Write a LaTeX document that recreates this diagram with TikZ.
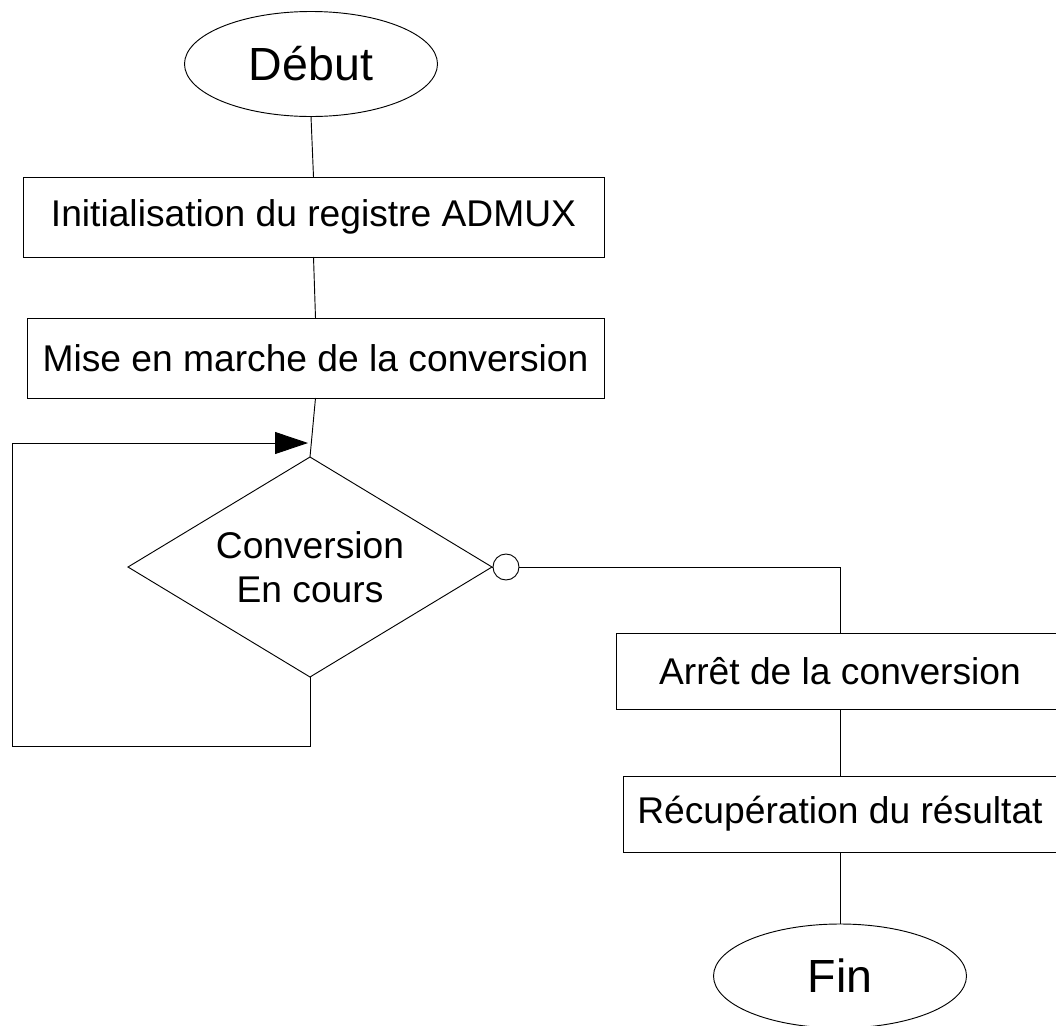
\documentclass[tikz,border=0pt]{standalone}
\usepackage{fontspec}
\setmainfont{Liberation Sans}
\usetikzlibrary{shapes.geometric,arrows.meta}
\begin{document}
\begin{tikzpicture}[x=0.75pt,y=-0.75pt,
  every node/.style={inner sep=0pt,outer sep=0pt},
  conn/.style={draw=black,line width=0.7pt},
  txt/.style={font=\fontsize{27.9pt}{33pt}\selectfont},
  bigtxt/.style={font=\fontsize{34.9pt}{40pt}\selectfont},
  procbox/.style={draw=black,line width=0.7pt,rectangle,txt},
  termin/.style={draw=black,line width=0.7pt,ellipse,bigtxt,minimum width=189.75pt,minimum height=78.75pt},
  decide/.style={draw=black,line width=0.7pt,diamond,minimum width=273pt,minimum height=165pt},
  bigtip/.style={-{Triangle[length=24.75pt,width=16.5pt]}}
]
\useasboundingbox (0,0) rectangle (1056,1025);
\clip (0,0) rectangle (1056,1025);
\fill[white] (0,0) rectangle (1056,1025);

\node[termin] (debut) at (311,64) {Début};
\node[procbox,minimum width=435.75pt,minimum height=60pt] (b1) at (313.5,217) {Initialisation du registre ADMUX};
\node[procbox,minimum width=432.75pt,minimum height=60pt] (b2) at (315.5,358) {Mise en marche de la conversion};
\node[decide] (dec) at (310,567) {};
\node[txt,align=center] (dectxt) at (dec.center) {Conversion\\En cours};
\node[draw=black,line width=0.7pt,circle,minimum size=19.5pt] (cir) at (506,567) {};
\node[procbox,minimum width=336pt,minimum height=57pt] (b3) at (840,671.5) {Arrêt de la conversion};
\node[procbox,minimum width=325.5pt,minimum height=57pt] (b4) at (840,814) {Récupération du résultat};
\node[termin,minimum height=78pt] (fin) at (840,976) {Fin};

\coordinate (lpB) at (310,746);
\coordinate (lpC) at (12,746);
\coordinate (lpD) at (12,443);
\coordinate (lpE) at (308,443);
\coordinate (rc) at (840,567);

\draw[conn] (debut.south) -- (b1.north);
\draw[conn] (b1.south) -- (b2.north);
\draw[conn] (b2.south) -- (dec.north);
\draw[conn] (dec.south) -- (lpB) -- (lpC) -- (lpD);
\draw[conn,bigtip] (lpD) -- (lpE);
\draw[conn] (dec.east) -- (cir.west);
\draw[conn] (cir.east) -- (rc) -- (b3.north);
\draw[conn] (b3.south) -- (b4.north);
\draw[conn] (b4.south) -- (fin.north);
\end{tikzpicture}
\end{document}
